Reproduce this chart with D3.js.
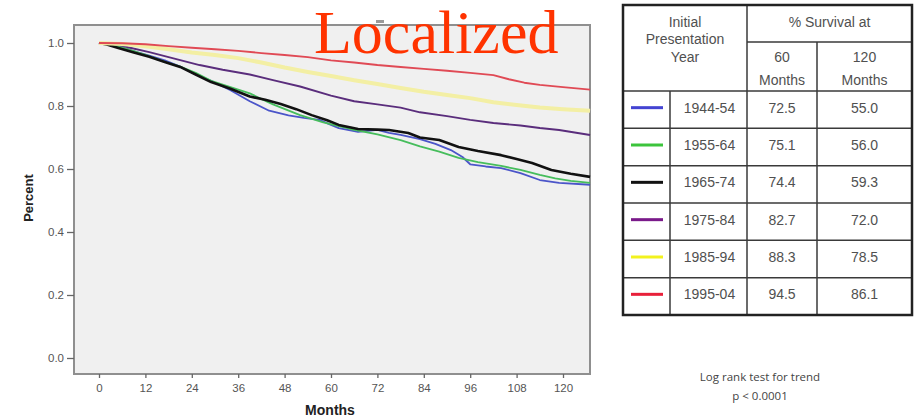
<!DOCTYPE html>
<html>
<head>
<meta charset="utf-8">
<script src="https://cdn.jsdelivr.net/npm/d3@7"></script>
<style>
  body { margin: 0; background: #fff; }
  svg { display: block; }
</style>
</head>
<body>
<div id="chart"></div>
<script>
// survival curves: [month, proportion surviving]
const blue = [[0,1],[3,0.995],[6,0.985],[10,0.97],[13,0.96],[17,0.945],[21,0.925],[25,0.9],[29,0.88],[34,0.85],[39,0.815],[44,0.785],[49,0.77],[53,0.762],[57,0.756],[60,0.74],[62,0.73],[67,0.718],[72,0.724],[75,0.715],[78,0.708],[83,0.695],[87,0.68],[91,0.66],[94,0.638],[96,0.615],[100,0.608],[104,0.603],[109,0.587],[114,0.565],[119,0.556],[127,0.55]];
const green = [[0,1],[3,0.995],[6,0.985],[10,0.97],[13,0.958],[17,0.94],[21,0.925],[25,0.905],[29,0.88],[34,0.86],[39,0.84],[45,0.805],[52,0.771],[58,0.748],[65,0.727],[72,0.71],[78,0.692],[83,0.672],[88,0.655],[93,0.635],[98,0.622],[104,0.61],[109,0.597],[114,0.581],[118,0.57],[122,0.562],[127,0.556]];
const black = [[0,1],[2,0.995],[5,0.984],[9,0.97],[13,0.956],[17,0.94],[21,0.924],[25,0.9],[29,0.876],[34,0.855],[39,0.83],[43,0.82],[47,0.806],[51,0.79],[55,0.771],[59,0.755],[62,0.74],[67,0.727],[72,0.725],[75,0.724],[80,0.714],[83,0.7],[88,0.692],[93,0.67],[98,0.657],[104,0.644],[108,0.632],[112,0.619],[117,0.597],[122,0.585],[127,0.575]];
const purple = [[0,1],[4,0.997],[8,0.985],[13,0.971],[19,0.952],[26,0.93],[32,0.915],[39,0.9],[45,0.882],[52,0.862],[60,0.833],[66,0.815],[72,0.805],[78,0.795],[83,0.78],[90,0.768],[96,0.756],[102,0.746],[109,0.738],[114,0.73],[119,0.724],[123,0.716],[127,0.708]];
const yellow = [[0,1],[6,0.997],[12,0.99],[18,0.98],[24,0.97],[30,0.962],[36,0.952],[42,0.938],[48,0.922],[54,0.908],[60,0.895],[66,0.882],[72,0.87],[78,0.857],[84,0.845],[90,0.835],[96,0.825],[102,0.812],[108,0.803],[114,0.795],[120,0.79],[127,0.785]];
const red = [[0,1],[6,0.999],[12,0.996],[18,0.99],[24,0.985],[30,0.98],[36,0.975],[42,0.968],[48,0.962],[54,0.955],[60,0.945],[66,0.938],[72,0.93],[78,0.924],[84,0.918],[90,0.912],[96,0.905],[102,0.898],[106,0.885],[110,0.874],[114,0.867],[120,0.86],[127,0.852]];

const years = ['1944-54', '1955-64', '1965-74', '1975-84', '1985-94', '1995-04'];
const surv60 = ['72.5', '75.1', '74.4', '82.7', '88.3', '94.5'];
const surv120 = ['55.0', '56.0', '59.3', '72.0', '78.5', '86.1'];

const xTicks = [0, 12, 24, 36, 48, 60, 72, 84, 96, 108, 120];
const yTicks = [0, 0.2, 0.4, 0.6, 0.8, 1.0];

const curves = [blue, green, black, purple, yellow, red];
const lineColors = ['#4b55c9', '#46bd5c', '#111111', '#5a2d7c', '#f3efa4', '#e04a55'];
const lineWidths = [1.8, 1.8, 2.6, 1.9, 4, 1.9];
const swatchColors = ['#4444d2', '#3cc43c', '#111111', '#7a1a8a', '#f2f21e', '#e8203a'];

const W = 919, H = 420;
const frame = { left: 74, top: 25, right: 590, bottom: 374 };

const svg = d3.select('#chart').append('svg')
  .attr('width', W)
  .attr('height', H)
  .style('font-family', 'Liberation Sans, Arial, sans-serif');

const x = d3.scaleLinear().domain([0, 120]).range([99, 563]);
const y = d3.scaleLinear().domain([0, 1]).range([358, 43]);

// plot panel
svg.append('rect')
  .attr('x', frame.left)
  .attr('y', frame.top)
  .attr('width', frame.right - frame.left)
  .attr('height', frame.bottom - frame.top)
  .attr('fill', '#f0f0f0')
  .attr('stroke', '#8f8f8f')
  .attr('stroke-width', 2);

svg.append('rect')
  .attr('x', 376).attr('y', 20).attr('width', 8).attr('height', 3)
  .attr('fill', '#9a9a9a');

const line = d3.line()
  .x(d => x(d[0]))
  .y(d => y(d[1]));

svg.append('g').selectAll('path')
  .data(curves)
  .join('path')
  .attr('d', line)
  .attr('fill', 'none')
  .attr('stroke', (d, i) => lineColors[i])
  .attr('stroke-width', (d, i) => lineWidths[i])
  .attr('stroke-linejoin', 'round');

// axes
const yAxis = svg.append('g')
  .attr('transform', `translate(${frame.left},0)`)
  .call(d3.axisLeft(y).tickValues(yTicks).tickFormat(d3.format('.1f')).tickSize(7).tickPadding(3));
const xAxis = svg.append('g')
  .attr('transform', `translate(0,${frame.bottom})`)
  .call(d3.axisBottom(x).tickValues(xTicks).tickSize(4).tickPadding(6));

[xAxis, yAxis].forEach(a => {
  a.select('.domain').remove();
  a.selectAll('line').attr('stroke', '#666').attr('stroke-width', 1.3);
  a.selectAll('text').attr('fill', '#555').style('font-size', '11.5px');
});

svg.append('text')
  .attr('transform', 'translate(33,198) rotate(-90)')
  .attr('text-anchor', 'middle')
  .style('font-size', '13px')
  .style('font-weight', 'bold')
  .attr('fill', '#222')
  .text('Percent');

svg.append('text')
  .attr('x', 330)
  .attr('y', 415)
  .attr('text-anchor', 'middle')
  .style('font-size', '14px')
  .style('font-weight', 'bold')
  .attr('fill', '#222')
  .text('Months');

svg.append('text')
  .attr('x', 314)
  .attr('y', 53)
  .style('font-family', 'Liberation Serif, Times New Roman, serif')
  .style('font-size', '62px')
  .attr('fill', '#ff3300')
  .text('Localized');

// survival table
const tb = { left: 623, right: 912, top: 5, bottom: 315, c1: 670, c2: 747, c3: 817, split: 42, head: 91 };
const table = svg.append('g').style('font-size', '14px').attr('fill', '#505050');
const rowY = d3.scaleBand().domain(years).range([tb.head, tb.bottom]);

const grid = [
  [tb.c2, tb.top, tb.c2, tb.bottom],
  [tb.c2, tb.split, tb.right, tb.split],
  [tb.c3, tb.split, tb.c3, tb.bottom],
  [tb.c1, tb.head, tb.c1, tb.bottom],
  [tb.left, tb.head, tb.right, tb.head]
];
years.slice(1).forEach(yr => grid.push([tb.left, rowY(yr), tb.right, rowY(yr)]));

table.selectAll('line.grid')
  .data(grid)
  .join('line')
  .attr('x1', d => d[0]).attr('y1', d => d[1])
  .attr('x2', d => d[2]).attr('y2', d => d[3])
  .attr('stroke', '#3a3a3a')
  .attr('stroke-width', 1.5);

table.append('rect')
  .attr('x', tb.left).attr('y', tb.top)
  .attr('width', tb.right - tb.left).attr('height', tb.bottom - tb.top)
  .attr('fill', 'none')
  .attr('stroke', '#222')
  .attr('stroke-width', 2.5);

const headText = [
  ['Initial', (tb.left + tb.c2) / 2, 22],
  ['Presentation', (tb.left + tb.c2) / 2, 39],
  ['Year', (tb.left + tb.c2) / 2, 57],
  ['% Survival at', (tb.c2 + tb.right) / 2, 22],
  ['60', (tb.c2 + tb.c3) / 2, 57],
  ['Months', (tb.c2 + tb.c3) / 2, 80],
  ['120', (tb.c3 + tb.right) / 2, 57],
  ['Months', (tb.c3 + tb.right) / 2, 80]
];
table.selectAll('text.head')
  .data(headText)
  .join('text')
  .attr('x', d => d[1])
  .attr('y', d => d[2])
  .attr('dy', '0.35em')
  .attr('text-anchor', 'middle')
  .text(d => d[0]);

const rows = table.selectAll('g.row')
  .data(years)
  .join('g')
  .attr('transform', d => `translate(0,${rowY(d) + rowY.bandwidth() / 2 - 2})`);

rows.append('line')
  .attr('x1', 631).attr('x2', 663)
  .attr('stroke', (d, i) => swatchColors[i])
  .attr('stroke-width', 3);
rows.append('text')
  .attr('x', (tb.c1 + tb.c2) / 2 + 1)
  .attr('dy', '0.35em')
  .attr('text-anchor', 'middle')
  .text(d => d);
rows.append('text')
  .attr('x', (tb.c2 + tb.c3) / 2)
  .attr('dy', '0.35em')
  .attr('text-anchor', 'middle')
  .text((d, i) => surv60[i]);
rows.append('text')
  .attr('x', (tb.c3 + tb.right) / 2)
  .attr('dy', '0.35em')
  .attr('text-anchor', 'middle')
  .text((d, i) => surv120[i]);

const note = svg.append('g')
  .style('font-family', 'Open Sans, sans-serif')
  .style('font-size', '11.5px')
  .attr('fill', '#444')
  .attr('text-anchor', 'middle');
note.append('text').attr('x', 760).attr('y', 381).text('Log rank test for trend');
note.append('text').attr('x', 760).attr('y', 400).text('p < 0.0001');
</script>
</body>
</html>
